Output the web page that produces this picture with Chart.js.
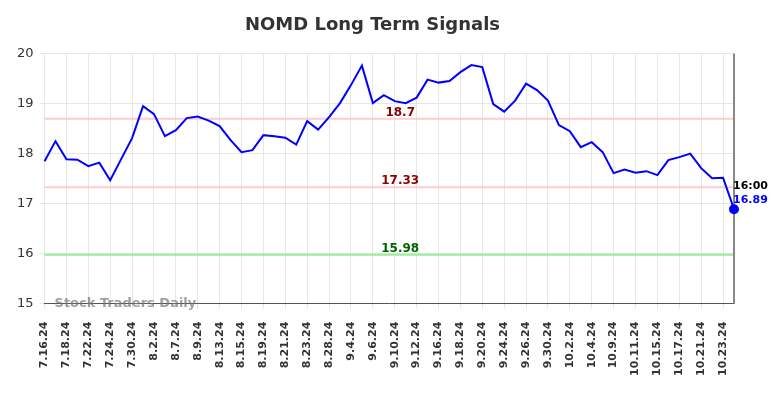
<!DOCTYPE html>
<html>
<head>
<meta charset="utf-8">
<script src="https://cdn.jsdelivr.net/npm/chart.js@4.4.1/dist/chart.umd.min.js"></script>
<style>
  html, body { margin: 0; padding: 0; background: #fff; }
  #wrap { width: 784px; height: 398px; }
</style>
</head>
<body>
<div id="wrap"><canvas id="nomdChart" width="784" height="398"></canvas></div>
<script>
// dates for every data point; only every other one is shown on the axis
const dates = [
  '7.16.24', '7.17.24', '7.18.24', '7.19.24', '7.22.24', '7.23.24', '7.24.24', '7.26.24',
  '7.30.24', '8.1.24', '8.2.24', '8.6.24', '8.7.24', '8.8.24', '8.9.24', '8.12.24',
  '8.13.24', '8.14.24', '8.15.24', '8.16.24', '8.19.24', '8.20.24', '8.21.24', '8.22.24',
  '8.23.24', '8.27.24', '8.28.24', '8.30.24', '9.4.24', '9.5.24', '9.6.24', '9.9.24',
  '9.10.24', '9.11.24', '9.12.24', '9.13.24', '9.16.24', '9.17.24', '9.18.24', '9.19.24',
  '9.20.24', '9.23.24', '9.24.24', '9.25.24', '9.26.24', '9.27.24', '9.30.24', '10.1.24',
  '10.2.24', '10.3.24', '10.4.24', '10.8.24', '10.9.24', '10.10.24', '10.11.24', '10.14.24',
  '10.15.24', '10.16.24', '10.17.24', '10.18.24', '10.21.24', '10.22.24', '10.23.24', '10.24.24'
];

const prices = [
  17.85, 18.25, 17.89, 17.88, 17.75, 17.82, 17.47, 17.89,
  18.31, 18.95, 18.79, 18.35, 18.47, 18.71, 18.74, 18.66,
  18.55, 18.27, 18.03, 18.07, 18.37, 18.35, 18.32, 18.18,
  18.65, 18.48, 18.73, 19.01, 19.37, 19.76, 19.01, 19.17,
  19.05, 19.01, 19.12, 19.48, 19.42, 19.45, 19.63, 19.77,
  19.73, 18.99, 18.84, 19.06, 19.40, 19.27, 19.06, 18.57,
  18.45, 18.13, 18.23, 18.03, 17.61, 17.68, 17.62, 17.65,
  17.57, 17.87, 17.93, 18.00, 17.71, 17.51, 17.52, 16.89
];

const signalLevels = [18.7, 17.33, 15.98];
const signalLineColors = ['#ffcccc', '#ffcccc', '#99ee99'];
const signalTextColors = ['#8b0000', '#8b0000', '#006400'];

const yTicks = [15, 16, 17, 18, 19, 20];
const lastTime = '16:00';

const levelsPlugin = {
  id: 'levels',
  beforeDatasetsDraw(chart) {
    const { ctx, chartArea, scales } = chart;
    ctx.save();
    signalLevels.forEach((v, i) => {
      const y = scales.y.getPixelForValue(v);
      ctx.strokeStyle = signalLineColors[i];
      ctx.lineWidth = 2;
      ctx.beginPath();
      ctx.moveTo(chartArea.left, y);
      ctx.lineTo(chartArea.right, y);
      ctx.stroke();
    });
    // vertical marker at the last point
    const xLast = scales.x.getPixelForValue(prices.length - 1);
    ctx.strokeStyle = '#888';
    ctx.lineWidth = 2;
    ctx.beginPath();
    ctx.moveTo(xLast, chartArea.top);
    ctx.lineTo(xLast, chartArea.bottom);
    ctx.stroke();
    ctx.restore();
  },
  afterDatasetsDraw(chart) {
    const { ctx, chartArea, scales } = chart;
    ctx.save();
    ctx.font = 'bold 12px "DejaVu Sans", sans-serif';
    ctx.textAlign = 'center';
    ctx.textBaseline = 'alphabetic';
    const midX = scales.x.getPixelForValue(32.5);
    signalLevels.forEach((v, i) => {
      const y = scales.y.getPixelForValue(v);
      ctx.fillStyle = signalTextColors[i];
      ctx.fillText(String(v), midX, y - 3);
    });

    // last value label
    const last = prices.length - 1;
    const px = scales.x.getPixelForValue(last);
    const py = scales.y.getPixelForValue(prices[last]);
    ctx.textAlign = 'left';
    ctx.font = 'bold 11px "DejaVu Sans", sans-serif';
    ctx.fillStyle = '#000';
    ctx.fillText(lastTime, px - 1, py - 20);
    ctx.fillStyle = '#0000ff';
    ctx.fillText(prices[last].toFixed(2), px - 1, py - 6);

    // watermark
    ctx.font = 'bold 13px "DejaVu Sans", sans-serif';
    ctx.fillStyle = 'rgba(120,120,120,0.7)';
    ctx.textBaseline = 'middle';
    ctx.fillText('Stock Traders Daily', chartArea.left + 10, chartArea.bottom);
    ctx.restore();
  }
};

new Chart(document.getElementById('nomdChart').getContext('2d'), {
  type: 'line',
  data: {
    labels: dates,
    datasets: [{
      data: prices,
      borderColor: '#0000ff',
      borderWidth: 2,
      tension: 0,
      fill: false,
      pointRadius: prices.map((_, i) => (i === prices.length - 1 ? 4 : 0)),
      pointBackgroundColor: '#0000ff',
      pointBorderColor: '#0000ff'
    }]
  },
  options: {
    responsive: false,
    animation: false,
    layout: { padding: { left: 11, right: 50, top: 0, bottom: 9 } },
    plugins: {
      legend: { display: false },
      tooltip: { enabled: false },
      title: {
        display: true,
        text: 'NOMD Long Term Signals',
        color: '#333',
        font: { family: '"DejaVu Sans", sans-serif', size: 18, weight: 'bold' },
        padding: { top: 15, bottom: 17 }
      }
    },
    scales: {
      x: {
        offset: false,
        grid: { color: '#e6e6e6', tickLength: 5 },
        border: { color: '#555', width: 1 },
        ticks: {
          autoSkip: false,
          maxRotation: 90,
          minRotation: 90,
          padding: 13,
          color: '#333',
          font: { family: '"DejaVu Sans", sans-serif', size: 11, weight: 'bold' },
          callback: (val, idx) => (idx % 2 === 0 ? dates[idx] : null)
        }
      },
      y: {
        min: yTicks[0],
        max: yTicks[yTicks.length - 1],
        grid: { color: '#e6e6e6', tickLength: 5 },
        border: { display: false },
        afterBuildTicks: (axis) => { axis.ticks = yTicks.map(v => ({ value: v })); },
        ticks: {
          color: '#333',
          padding: 6,
          font: { family: '"DejaVu Sans", sans-serif', size: 13 }
        }
      }
    }
  },
  plugins: [levelsPlugin]
});
</script>
</body>
</html>
